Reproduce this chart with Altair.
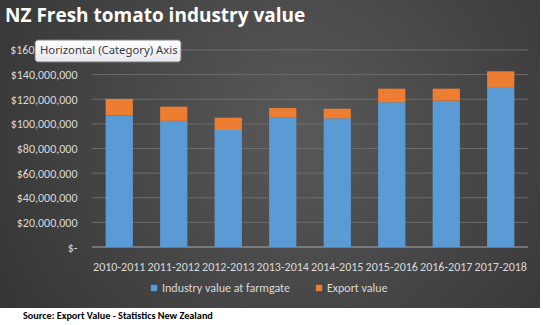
import altair as alt
import pandas as pd

years = ["2010-2011", "2011-2012", "2012-2013", "2013-2014",
         "2014-2015", "2015-2016", "2016-2017", "2017-2018"]
farmgate = [106_700_000, 102_500_000, 95_000_000, 105_300_000,
            104_500_000, 117_500_000, 118_800_000, 130_000_000]
export = [13_600_000, 11_500_000, 10_000_000, 7_600_000,
          7_800_000, 11_100_000, 9_800_000, 12_700_000]
series = ["Industry value at farmgate", "Export value"]
colors = ["#5b9bd5", "#ed7d31"]
y_ticks = [0, 20_000_000, 40_000_000, 60_000_000, 80_000_000,
           100_000_000, 120_000_000, 140_000_000, 160_000_000]

rows = []
for y, f, e in zip(years, farmgate, export):
    rows.append({"year": y, "series": series[0], "value": f, "ord": 0})
    rows.append({"year": y, "series": series[1], "value": e, "ord": 1})
df = pd.DataFrame(rows)
grid_df = pd.DataFrame({"v": y_ticks[1:]})
base_df = pd.DataFrame({"v": [0]})
top_df = pd.DataFrame({"v": [160_000_000]})
one = pd.DataFrame({"a": [0]})

FONT = "Carlito, Lato, sans-serif"
LBL = "#d9d9d9"
yscale = alt.Scale(domain=[0, 160_000_000], nice=False)
yaxis = alt.Axis(values=y_ticks, ticks=False, domain=False, grid=False,
                 labelPadding=15, labelFontSize=12, labelColor=LBL,
                 labelFont=FONT, zindex=1, labelOverlap=False, tickCount=9,
                 labelExpr="datum.value == 0 ? '$-\u00a0\u00a0' : (datum.value == 160000000 ? '' : '$' + format(datum.value, ','))")

def Y(field, **kw):
    return alt.Y(field, scale=yscale, axis=yaxis, title=None, **kw)

bg = alt.Chart(one).mark_rect(
    fill=alt.RadialGradient(
        gradient="radial", x1=0.55, y1=0.45, r1=0, x2=0.55, y2=0.45, r2=0.75,
        stops=[alt.GradientStop(color="#595959", offset=0),
               alt.GradientStop(color="#2f2f2f", offset=1)]),
).encode(x=alt.value(-92), x2=alt.value(448), y=alt.value(-50), y2=alt.value(258))

grid = alt.Chart(grid_df).mark_rule(color="#6c6c6c", strokeWidth=1).encode(y=Y("v:Q"))
baseline = alt.Chart(base_df).mark_rule(color="#a8a8a8", strokeWidth=1).encode(y=Y("v:Q"))

bars = alt.Chart(df).mark_bar().encode(
    x=alt.X("year:N", sort=years, title=None,
            scale=alt.Scale(paddingInner=0.5, paddingOuter=0.25),
            axis=alt.Axis(labelAngle=0, ticks=False, domain=False, grid=False,
                          labelPadding=14, labelFontSize=12, labelColor=LBL,
                          labelFont=FONT, zindex=1, labelOverlap=False)),
    y=Y("value:Q", stack="zero"),
    color=alt.Color("series:N", sort=series,
                    scale=alt.Scale(domain=series, range=colors),
                    legend=alt.Legend(title=None, orient="none", direction="horizontal",
                                      legendX=56, legendY=232, symbolType="square",
                                      symbolSize=40, symbolStrokeWidth=0,
                                      labelFontSize=12, labelColor=LBL, labelFont=FONT,
                                      labelOffset=2, columnPadding=23)),
    order=alt.Order("ord:Q"),
)

top_label = alt.Chart(top_df).mark_text(
    align="right", baseline="middle", fontSize=12, color=LBL, font=FONT
).encode(y=Y("v:Q"), x=alt.value(-15), text=alt.value("$160,000,000"))

tip_box = alt.Chart(one).mark_rect(
    fill=alt.LinearGradient(
        gradient="linear", x1=0, y1=0, x2=0, y2=1,
        stops=[alt.GradientStop(color="#ffffff", offset=0),
               alt.GradientStop(color="#e6e7ef", offset=1)]),
    stroke="#7a7a7a", strokeWidth=1, cornerRadius=3,
).encode(x=alt.value(-57), x2=alt.value(89), y=alt.value(-10), y2=alt.value(12))

tip_text = alt.Chart(one).mark_text(
    align="left", baseline="middle", fontSize=11.3, color="#3a3a3a", font="Noto Sans"
).encode(x=alt.value(-52), y=alt.value(1), text=alt.value("Horizontal (Category) Axis"))

title = alt.Chart(one).mark_text(
    align="left", baseline="alphabetic", fontSize=19, fontWeight="bold",
    color="#ffffff", font="Open Sans"
).encode(x=alt.value(-87), y=alt.value(-28), text=alt.value("NZ Fresh tomato industry value"))

source = alt.Chart(one).mark_text(
    align="left", baseline="middle", fontSize=10.2, fontWeight="bold", color="#000000",
    font=FONT
).encode(x=alt.value(-69), y=alt.value(266),
         text=alt.value("Source: Export Value - Statistics New Zealand"))

chart = alt.layer(bg, grid, baseline, bars, top_label, tip_box, tip_text, title, source).properties(
    width=436, height=197,
    background="white",
    padding={"left": 92, "top": 50, "right": 15, "bottom": 78},
    autosize=alt.AutoSizeParams(type="none"),
).configure_view(stroke=None)

chart.save("out.html", embed_options={"renderer": "svg", "actions": False})
